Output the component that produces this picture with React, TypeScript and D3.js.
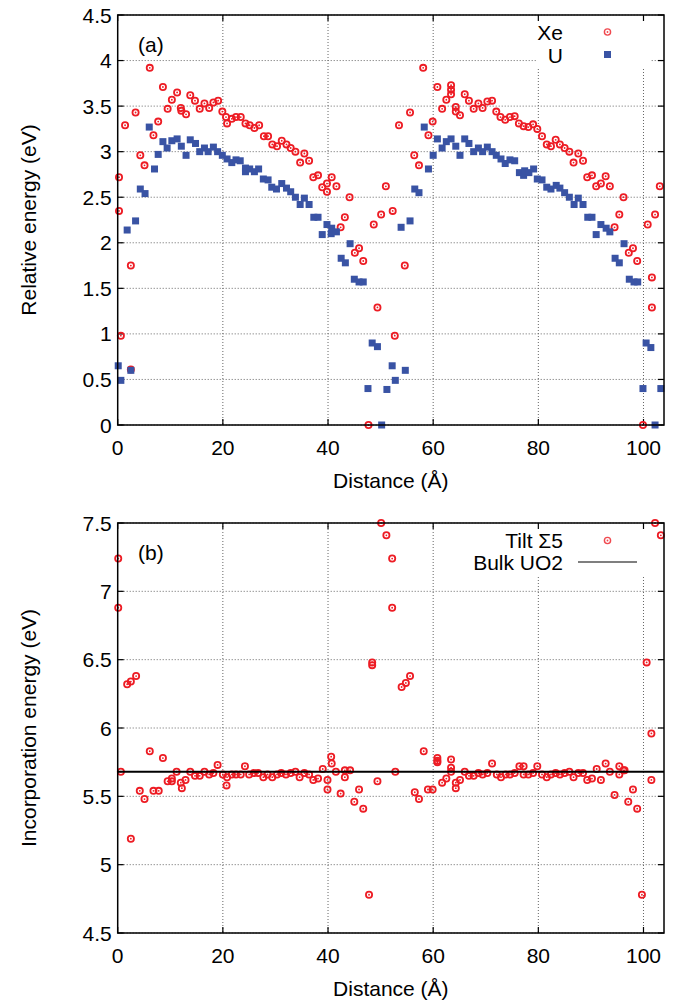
import React from 'react';
import * as d3 from 'd3';

// ---------- data ----------
const xeDist = [
  0.25, 0.25, 0.6, 1.4, 2.5, 2.5, 3.4, 4.3, 5.1, 6.1, 6.8, 7.7, 8.6, 9.5, 10.3, 11.3, 12.0, 12.1, 13.0, 13.8,
  14.7, 15.6, 16.5, 17.4, 18.2, 19.1, 19.9, 20.6, 20.8, 21.7, 22.5, 23.4, 24.3, 25.1, 26.0, 26.9, 27.8, 28.6, 29.4, 30.3,
  31.2, 32.1, 32.9, 33.8, 34.7, 35.5, 36.4, 37.2, 38.1, 38.9, 39.8, 39.8, 40.7, 41.6, 42.4, 43.2, 44.1, 45.1, 45.9, 46.7,
  47.7, 48.7, 49.4, 50.1, 51.0, 52.3, 52.7, 53.5, 54.6, 55.6, 56.4, 57.3, 58.1, 59.1, 59.9, 60.8, 61.7, 62.5, 63.4, 63.4,
  63.4, 64.3, 64.3, 65.1, 66.0, 66.8, 67.7, 68.6, 69.4, 70.3, 71.2, 72.0, 72.8, 73.7, 74.6, 75.5, 76.3, 77.2, 78.1, 79.0,
  79.8, 80.7, 81.6, 82.4, 83.3, 84.1, 85.0, 85.9, 86.7, 87.6, 88.5, 89.3, 90.2, 91.0, 91.9, 92.8, 93.6, 94.5, 95.4, 96.2,
  97.2, 98.0, 98.8, 99.9, 100.8, 101.6, 101.6, 102.2, 103.1,
];
const xeEnergy = [
  2.72, 2.35, 0.98, 3.29, 1.75, 0.61, 3.43, 2.96, 2.85, 3.92, 3.18, 3.33, 3.71, 3.47, 3.57, 3.65, 3.48, 3.45, 3.41, 3.62,
  3.56, 3.47, 3.53, 3.48, 3.54, 3.56, 3.44, 3.38, 3.31, 3.36, 3.38, 3.38, 3.31, 3.29, 3.26, 3.29, 3.17, 3.17, 3.08, 3.06,
  3.12, 3.08, 3.04, 3.0, 2.88, 2.98, 2.9, 2.72, 2.74, 2.61, 2.65, 2.56, 2.72, 2.62, 2.17, 2.28, 2.5, 1.89, 1.94, 1.8,
  0.0, 2.2, 1.29, 2.31, 2.62, 2.35, 0.98, 3.29, 1.75, 3.43, 2.96, 2.85, 3.92, 3.18, 3.33, 3.71, 3.47, 3.57, 3.73, 3.68,
  3.63, 3.49, 3.44, 3.4, 3.63, 3.56, 3.47, 3.53, 3.48, 3.55, 3.56, 3.44, 3.38, 3.35, 3.38, 3.39, 3.31, 3.28, 3.27, 3.3,
  3.25, 3.17, 3.08, 3.06, 3.13, 3.08, 3.04, 3.0, 2.88, 2.98, 2.9, 2.72, 2.74, 2.62, 2.65, 2.73, 2.62, 2.17, 2.31, 2.5,
  1.89, 1.94, 1.8, 0.0, 2.2, 1.62, 1.29, 2.31, 2.62,
];

const uDist = [
  0.1, 0.6, 1.8, 2.5, 3.4, 4.3, 5.2, 6.0, 7.0, 7.7, 8.6, 9.4, 10.3, 11.3, 12.1, 13.0, 13.8, 14.8, 15.6, 16.5,
  17.2, 18.2, 19.0, 19.9, 20.8, 21.7, 22.5, 23.3, 24.3, 24.3, 25.1, 26.0, 26.8, 27.7, 28.6, 29.3, 30.2, 31.2, 32.1, 32.9,
  33.8, 34.7, 35.5, 36.4, 37.3, 38.1, 38.9, 39.8, 40.6, 40.7, 41.6, 42.5, 43.3, 44.2, 45.0, 45.9, 46.7, 47.6, 48.4, 49.4,
  50.2, 51.2, 52.2, 52.8, 53.9, 54.7, 55.6, 56.5, 57.3, 58.3, 59.1, 60.0, 60.8, 61.7, 62.5, 63.4, 64.3, 65.1, 66.0, 66.8,
  67.7, 68.6, 69.4, 70.3, 71.2, 72.0, 72.9, 73.7, 74.6, 75.5, 76.4, 77.2, 77.4, 78.2, 79.1, 79.8, 80.7, 81.6, 82.4, 83.4,
  84.1, 85.0, 85.9, 86.8, 87.6, 88.5, 89.4, 90.2, 91.0, 91.9, 92.9, 93.6, 94.6, 95.4, 96.3, 97.3, 98.2, 98.9, 99.9, 100.5,
  101.4, 102.2, 103.3,
];
const uEnergy = [
  0.65, 0.49, 2.14, 0.6, 2.24, 2.59, 2.54, 3.27, 2.81, 2.97, 3.11, 3.04, 3.12, 3.14, 3.06, 2.96, 3.13, 3.09, 3.0, 3.04,
  3.0, 3.05, 3.0, 2.96, 2.92, 2.88, 2.91, 2.9, 2.78, 2.82, 2.81, 2.78, 2.81, 2.7, 2.69, 2.61, 2.59, 2.65, 2.6, 2.56,
  2.5, 2.42, 2.49, 2.42, 2.28, 2.28, 2.09, 2.2, 2.1, 2.16, 2.12, 1.83, 1.78, 1.99, 1.6, 1.57, 1.57, 0.4, 0.9, 0.86,
  0.0, 0.39, 0.65, 0.49, 2.17, 0.6, 2.24, 2.59, 2.55, 3.27, 2.81, 2.96, 3.14, 3.04, 3.11, 3.14, 3.06, 2.96, 3.14, 3.09,
  3.0, 3.04, 3.0, 3.05, 3.0, 2.96, 2.92, 2.87, 2.91, 2.9, 2.77, 2.74, 2.79, 2.77, 2.81, 2.7, 2.69, 2.61, 2.59, 2.63,
  2.6, 2.55, 2.5, 2.42, 2.49, 2.42, 2.28, 2.28, 2.09, 2.2, 2.16, 2.12, 1.83, 1.78, 1.99, 1.6, 1.57, 1.57, 0.4, 0.9,
  0.85, 0.0, 0.4,
];

const incDist = [
  0.1, 0.1, 0.6, 1.8, 2.5, 2.5, 3.5, 4.2, 5.1, 6.1, 6.8, 7.8, 8.6, 9.5, 10.3, 10.3, 11.2, 12.0, 12.2, 12.9,
  13.8, 14.7, 15.6, 16.5, 17.4, 18.2, 19.0, 20.0, 20.7, 20.8, 21.7, 22.5, 23.4, 24.2, 25.0, 25.9, 26.7, 27.7, 28.5, 29.4,
  30.3, 31.1, 32.0, 32.9, 33.8, 34.6, 35.5, 36.4, 37.2, 38.1, 39.0, 39.9, 39.9, 40.6, 40.7, 41.5, 42.4, 43.2, 43.2, 44.2,
  45.0, 45.9, 46.7, 47.8, 48.4, 48.4, 49.4, 50.1, 51.1, 52.2, 52.2, 52.8, 54.0, 54.8, 55.6, 56.5, 57.3, 58.2, 59.0, 59.9,
  60.8, 60.8, 60.8, 61.7, 62.5, 63.4, 63.4, 63.4, 64.3, 64.3, 65.1, 66.0, 66.8, 67.7, 68.6, 69.4, 70.3, 71.2, 72.1, 72.9,
  73.8, 74.6, 75.5, 76.4, 77.2, 77.2, 78.1, 79.0, 79.8, 80.7, 81.6, 82.4, 83.3, 84.1, 85.0, 85.9, 86.7, 87.6, 88.5, 89.3,
  90.2, 91.1, 91.9, 92.8, 93.6, 94.5, 95.4, 95.4, 96.2, 96.4, 97.1, 98.0, 98.8, 99.7, 100.6, 101.5, 101.5, 102.2, 103.3,
];
const incEnergy = [
  7.24, 6.88, 5.68, 6.32, 6.34, 5.19, 6.38, 5.54, 5.48, 5.83, 5.54, 5.54, 5.78, 5.61, 5.63, 5.61, 5.68, 5.6, 5.56, 5.62,
  5.68, 5.65, 5.65, 5.68, 5.66, 5.67, 5.73, 5.66, 5.58, 5.64, 5.66, 5.66, 5.66, 5.72, 5.66, 5.67, 5.67, 5.64, 5.66, 5.64,
  5.66, 5.67, 5.66, 5.67, 5.68, 5.64, 5.67, 5.66, 5.62, 5.63, 5.7, 5.62, 5.55, 5.79, 5.74, 5.68, 5.52, 5.64, 5.69, 5.69,
  5.46, 5.55, 5.41, 4.78, 6.48, 6.46, 5.61, 7.5, 7.41, 7.24, 6.88, 5.68, 6.3, 6.33, 6.38, 5.53, 5.48, 5.83, 5.55, 5.55,
  5.78, 5.76, 5.75, 5.6, 5.63, 5.77, 5.71, 5.68, 5.6, 5.56, 5.62, 5.68, 5.65, 5.65, 5.67, 5.66, 5.67, 5.74, 5.66, 5.64,
  5.66, 5.66, 5.67, 5.72, 5.72, 5.66, 5.66, 5.67, 5.72, 5.66, 5.64, 5.66, 5.67, 5.66, 5.67, 5.68, 5.64, 5.67, 5.67, 5.62,
  5.63, 5.7, 5.62, 5.74, 5.68, 5.51, 5.72, 5.66, 5.69, 5.69, 5.46, 5.55, 5.41, 4.78, 6.48, 5.96, 5.62, 7.5, 7.41,
];

const bulkUO2 = 5.68;
const xTicks = [0, 20, 40, 60, 80, 100];
const aTicks = [0, 0.5, 1, 1.5, 2, 2.5, 3, 3.5, 4, 4.5];
const bTicks = [4.5, 5, 5.5, 6, 6.5, 7, 7.5];
const xMax = 103.9;

// ---------- drawing ----------
const RED = '#ed1c24';
const BLUE = '#3953a4';
const FONT = '"Liberation Sans", Arial, Helvetica, sans-serif';
const FS = 21;

const L = 117.7;
const R = 664;

const x = d3.scaleLinear().domain([0, xMax]).range([L, R]);

function XeMark({ cx, cy, light }: { cx: number; cy: number; light?: boolean }) {
  return (
    <g opacity={light ? 0.8 : 1}>
      <circle cx={cx} cy={cy} r={3.1} fill="none" stroke={RED} strokeWidth={light ? 1.4 : 1.8} />
      <circle cx={cx} cy={cy} r={0.9} fill={RED} />
    </g>
  );
}

function Frame({
  top, bottom, y, ticks, legendBox,
}: {
  top: number; bottom: number; y: d3.ScaleLinear<number, number>; ticks: number[];
  legendBox: [number, number, number, number];
}) {
  const tl = 6;
  return (
    <g>
      {xTicks.filter((t) => t > 0).map((t) => (
        <line key={'gx' + t} x1={x(t)} x2={x(t)} y1={top} y2={bottom} stroke="#666" strokeWidth={1} strokeDasharray="1 2" />
      ))}
      {ticks.map((t) => (
        <line key={'gy' + t} x1={L} x2={R} y1={y(t)} y2={y(t)} stroke="#666" strokeWidth={1} strokeDasharray="1 2" />
      ))}
      <rect x={legendBox[0]} y={legendBox[1]} width={legendBox[2]} height={legendBox[3]} fill="#fff" />
      {xTicks.map((t) => (
        <g key={'tx' + t}>
          <line x1={x(t)} x2={x(t)} y1={bottom} y2={bottom - tl} stroke="#000" strokeWidth={1.2} />
          <line x1={x(t)} x2={x(t)} y1={top} y2={top + tl} stroke="#000" strokeWidth={1.2} />
          <text x={x(t)} y={bottom + 30} textAnchor="middle" fontFamily={FONT} fontSize={FS}>{String(t)}</text>
        </g>
      ))}
      {ticks.map((t) => (
        <g key={'ty' + t}>
          <line x1={L} x2={L + tl} y1={y(t)} y2={y(t)} stroke="#000" strokeWidth={1.2} />
          <line x1={R} x2={R - tl} y1={y(t)} y2={y(t)} stroke="#000" strokeWidth={1.2} />
          <text x={L - 6} y={y(t) + 7.5} textAnchor="end" fontFamily={FONT} fontSize={FS}>{String(t)}</text>
        </g>
      ))}
    </g>
  );
}

function Border({ top, bottom }: { top: number; bottom: number }) {
  return <rect x={L} y={top} width={R - L} height={bottom - top} fill="none" stroke="#000" strokeWidth={1.5} />;
}

export default function App() {
  const aTop = 15, aBottom = 425;
  const bTop = 523, bBottom = 933;
  const yA = d3.scaleLinear().domain([0, 4.5]).range([aBottom, aTop]);
  const yB = d3.scaleLinear().domain([4.5, 7.5]).range([bBottom, bTop]);
  const sq = 7;

  return (
    <div style={{ position: 'absolute', left: 0, top: 0 }}>
      <svg width={678} height={1004} style={{ display: 'block', background: '#fff' }}>
        {/* Panel (a) */}
        <Frame top={aTop} bottom={aBottom} y={yA} ticks={aTicks} legendBox={[537, 16, 113, 51]} />
        {xeDist.map((d, i) => (
          <XeMark key={'xe' + i} cx={x(d)} cy={yA(xeEnergy[i])} />
        ))}
        {uDist.map((d, i) => (
          <rect key={'u' + i} x={x(d) - sq / 2} y={yA(uEnergy[i]) - sq / 2} width={sq} height={sq} fill={BLUE} />
        ))}
        <Border top={aTop} bottom={aBottom} />
        <text x={138} y={52} fontFamily={FONT} fontSize={FS}>(a)</text>
        <text x={563} y={40} textAnchor="end" fontFamily={FONT} fontSize={FS}>Xe</text>
        <XeMark cx={607.5} cy={32} light />
        <text x={563} y={62.5} textAnchor="end" fontFamily={FONT} fontSize={FS}>U</text>
        <rect x={607.5 - sq / 2} y={54.5 - sq / 2} width={sq} height={sq} fill={BLUE} />
        <text x={x(xMax / 2)} y={488} textAnchor="middle" fontFamily={FONT} fontSize={FS}>Distance (Å)</text>
        <text transform={`translate(36,${(aTop + aBottom) / 2}) rotate(-90)`} textAnchor="middle" fontFamily={FONT} fontSize={FS}>
          Relative energy (eV)
        </text>

        {/* Panel (b) */}
        <Frame top={bTop} bottom={bBottom} y={yB} ticks={bTicks} legendBox={[437, 524, 213, 51]} />
        {incDist.map((d, i) => (
          <XeMark key={'inc' + i} cx={x(d)} cy={yB(incEnergy[i])} />
        ))}
        <line x1={L} x2={R} y1={yB(bulkUO2)} y2={yB(bulkUO2)} stroke="#000" strokeWidth={2} />
        <Border top={bTop} bottom={bBottom} />
        <text x={138} y={560} fontFamily={FONT} fontSize={FS}>(b)</text>
        <text x={563} y={548} textAnchor="end" fontFamily={FONT} fontSize={FS}>Tilt Σ5</text>
        <XeMark cx={607.5} cy={540.5} light />
        <text x={563} y={570} textAnchor="end" fontFamily={FONT} fontSize={FS}>Bulk UO2</text>
        <line x1={578} x2={637} y1={562} y2={562} stroke="#000" strokeWidth={1.2} />
        <text x={x(xMax / 2)} y={996} textAnchor="middle" fontFamily={FONT} fontSize={FS}>Distance (Å)</text>
        <text transform={`translate(36,${(bTop + bBottom) / 2}) rotate(-90)`} textAnchor="middle" fontFamily={FONT} fontSize={FS}>
          Incorporation energy (eV)
        </text>
      </svg>
    </div>
  );
}
